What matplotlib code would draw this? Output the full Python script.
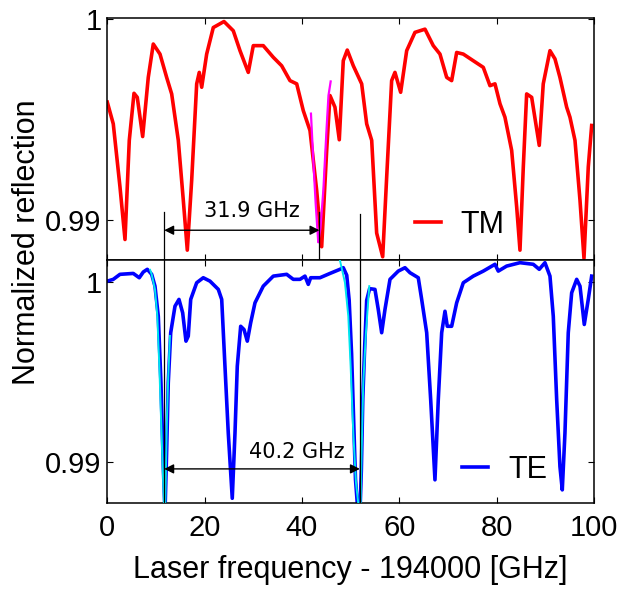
import matplotlib
matplotlib.use('Agg')
import matplotlib.pyplot as plt

plt.rcParams['font.family'] = ['Liberation Sans', 'DejaVu Sans']

# TM reflection (top panel)
tm_freq = [0.00, 1.23, 2.61, 3.64, 4.52, 5.49, 6.16, 7.27, 8.42, 9.45, 10.83, 12.20, 13.23, 14.59, 15.62,
           16.44, 17.34, 18.37, 18.90, 19.40, 20.42, 21.78, 23.98, 25.89, 27.27, 28.97, 30.00, 32.05, 34.11,
           35.83, 37.54, 38.92, 40.27, 41.65, 43.02, 44.05, 45.08, 45.76, 46.78, 47.67, 48.49, 49.31, 50.55,
           52.27, 53.30, 54.33, 55.35, 56.59, 57.41, 58.43, 59.11, 60.28, 61.52, 63.22, 65.28, 66.98, 68.36,
           69.74, 70.76, 71.79, 73.15, 75.20, 77.26, 78.63, 79.66, 80.69, 81.71, 83.09, 84.12, 84.80, 85.48,
           86.17, 87.20, 88.76, 89.58, 90.96, 91.99, 93.01, 94.39, 95.07, 96.10, 97.13, 97.95, 98.83, 99.53]
tm_refl = [0.99587, 0.99479, 0.99165, 0.98904, 0.99397, 0.99631, 0.99611, 0.99416, 0.99710, 0.99876, 0.99826,
           0.99710, 0.99628, 0.99397, 0.99099, 0.98851, 0.99198, 0.99678, 0.99735, 0.99661, 0.99826, 0.99958,
           0.99988, 0.99942, 0.99843, 0.99735, 0.99868, 0.99868, 0.99810, 0.99768, 0.99694, 0.99678, 0.99545,
           0.99446, 0.99149, 0.98868, 0.99347, 0.99620, 0.99562, 0.99400, 0.99793, 0.99846, 0.99768, 0.99678,
           0.99479, 0.99397, 0.98936, 0.98818, 0.99215, 0.99694, 0.99735, 0.99636, 0.99843, 0.99934, 0.99950,
           0.99868, 0.99826, 0.99710, 0.99694, 0.99834, 0.99826, 0.99793, 0.99760, 0.99669, 0.99678, 0.99579,
           0.99512, 0.99347, 0.99066, 0.98851, 0.99264, 0.99628, 0.99611, 0.99372, 0.99678, 0.99843, 0.99802,
           0.99710, 0.99562, 0.99512, 0.99397, 0.99099, 0.98810, 0.99264, 0.99471]

# TM fit around the 43.6 GHz dip
tm_fit_freq = [41.85, 42.33, 42.82, 43.23, 43.35, 43.80, 44.40, 45.07, 45.45, 45.90]
tm_fit_refl = [0.99530, 0.99297, 0.99083, 0.98934, 0.98890, 0.98960, 0.99150, 0.99460, 0.99620, 0.99690]

# TE reflection (bottom panel)
te_freq = [0.00, 1.23, 2.61, 5.34, 6.57, 7.40, 8.22, 9.12, 9.80, 10.48, 11.03, 11.51, 11.86, 12.20, 12.53,
           13.03, 13.91, 14.73, 15.49, 16.17, 16.64, 17.14, 18.37, 19.72, 21.10, 22.81, 23.51, 24.18, 24.86,
           25.68, 26.24, 26.71, 27.41, 28.09, 28.77, 29.46, 30.35, 32.05, 34.11, 36.86, 38.22, 39.59, 40.62,
           41.30, 41.79, 43.70, 45.76, 47.81, 48.49, 49.20, 49.70, 50.20, 50.60, 51.00, 51.50, 51.90, 52.20,
           52.50, 52.90, 53.30, 53.90, 55.00, 55.68, 56.38, 57.06, 58.09, 59.79, 61.17, 62.20, 63.90, 64.60,
           65.63, 66.45, 67.33, 68.01, 68.71, 69.39, 69.86, 70.76, 71.79, 73.15, 75.20, 77.26, 79.66, 80.34,
           82.06, 84.80, 87.53, 88.76, 89.93, 90.96, 91.64, 92.34, 93.01, 93.49, 94.04, 94.72, 95.42, 96.45,
           97.13, 98.01, 98.83, 99.53]
te_refl = [1.00007, 1.00017, 1.00045, 1.00050, 1.00026, 1.00058, 1.00073, 1.00045, 0.99979, 0.99811, 0.99439,
           0.98972, 0.98720, 0.99065, 0.99439, 0.99719, 0.99867, 0.99905, 0.99830, 0.99672, 0.99700, 0.99905,
           0.99998, 1.00026, 1.00007, 0.99961, 0.99905, 0.99532, 0.99159, 0.98795, 0.99159, 0.99532, 0.99755,
           0.99737, 0.99672, 0.99774, 0.99886, 0.99979, 1.00035, 1.00045, 1.00017, 1.00017, 1.00035, 0.99989,
           1.00026, 1.00026, 1.00050, 1.00073, 1.00082, 1.00040, 0.99900, 0.99600, 0.99250, 0.98900, 0.98720,
           0.98700, 0.98950, 0.99350, 0.99650, 0.99900, 0.99965, 0.99961, 0.99849, 0.99719, 0.99849, 1.00017,
           1.00063, 1.00082, 1.00054, 1.00026, 0.99905, 0.99719, 0.99345, 0.98898, 0.99345, 0.99719, 0.99839,
           0.99755, 0.99755, 0.99886, 0.99998, 1.00035, 1.00063, 1.00101, 1.00063, 1.00091, 1.00110, 1.00101,
           1.00073, 1.00110, 1.00035, 0.99811, 0.99345, 0.98972, 0.98842, 0.99159, 0.99719, 0.99942, 1.00017,
           0.99979, 0.99765, 0.99905, 1.00035]

# TE fits around the two dips
te_fit1_freq = [8.80, 9.12, 9.80, 10.28, 10.69, 11.03, 11.38, 11.65, 11.80, 11.92, 12.06, 12.27, 12.53, 12.88]
te_fit1_refl = [1.00070, 1.00045, 0.99961, 0.99812, 0.99533, 0.99253, 0.98973, 0.98767, 0.98700, 0.98767,
                0.98973, 0.99253, 0.99477, 0.99701]
te_fit2_freq = [47.81, 48.84, 49.52, 50.00, 50.55, 51.10, 51.57, 51.80, 52.07, 52.27, 52.60, 53.15, 53.83]
te_fit2_refl = [1.00123, 0.99998, 0.99812, 0.99533, 0.99160, 0.98881, 0.98767, 0.98700, 0.98767, 0.99065,
                0.99440, 0.99720, 0.99979]

# spacing markers
tm_marks = [11.7, 43.6]
te_marks = [11.7, 51.9]
tm_label = '31.9 GHz'
te_label = '40.2 GHz'

x_ticks = [0, 20, 40, 60, 80, 100]

fig = plt.figure(figsize=(6.18, 5.94), dpi=100)
ax1 = fig.add_axes([0.1736, 0.5623, 0.7875, 0.4069])
ax2 = fig.add_axes([0.1736, 0.1527, 0.7875, 0.4096])

ax1.plot(tm_freq, tm_refl, color='#ff0000', lw=2.6, label='TM', zorder=2)
ax1.plot(tm_fit_freq, tm_fit_refl, color='#ff00ff', lw=1.6, zorder=3)
ax2.plot(te_freq, te_refl, color='#0000ff', lw=2.6, label='TE', zorder=2)
ax2.plot(te_fit1_freq, te_fit1_refl, color='#00e5ee', lw=1.4, zorder=3)
ax2.plot(te_fit2_freq, te_fit2_refl, color='#00e5ee', lw=1.4, zorder=3)

ax1.set_ylim(0.98802, 1.00004)
ax2.set_ylim(0.98767, 1.00125)

# vertical marker lines
ax1.plot([tm_marks[0]] * 2, [0.99040, 0.5], color='k', lw=0.9, zorder=4)
ax1.plot([tm_marks[1]] * 2, [0.99040, 0.5], color='k', lw=0.9, zorder=4)
ax1.plot([te_marks[1]] * 2, [0.99030, 0.5], color='k', lw=0.9, zorder=4)
ax2.plot([te_marks[0]] * 2, [0.5, 1.1], color='k', lw=0.9, zorder=4)
ax2.plot([te_marks[1]] * 2, [0.5, 1.1], color='k', lw=0.9, zorder=4)

arr = dict(arrowstyle='<|-|>', color='k', lw=1.0, mutation_scale=14, shrinkA=0, shrinkB=0)
ax1.annotate('', xy=(tm_marks[0], 0.98950), xytext=(tm_marks[1], 0.98950), arrowprops=arr, zorder=5)
ax2.annotate('', xy=(te_marks[0], 0.98959), xytext=(te_marks[1], 0.98959), arrowprops=arr, zorder=5)
ax1.text(29.7, 0.99045, tm_label, ha='center', va='center', fontsize=15, family='DejaVu Sans')
ax2.text(38.9, 0.99056, te_label, ha='center', va='center', fontsize=15, family='DejaVu Sans')

for ax in (ax1, ax2):
    ax.set_xlim(0, 100)
    ax.set_xticks(x_ticks)
    ax.set_yticks([0.99, 1.0])
    ax.set_yticklabels(['0.99', '1'])
    ax.tick_params(direction='in', top=True, right=True, length=4, width=0.8, labelsize=21)
    ax.tick_params(axis='y', pad=4)
    for s in ax.spines.values():
        s.set_linewidth(1.1)

ax1.legend(frameon=False, fontsize=22, loc='center left', bbox_to_anchor=(0.632, 0.145),
           handlelength=0.85, handletextpad=0.65, borderpad=0, borderaxespad=0)
ax2.legend(frameon=False, fontsize=22, loc='center left', bbox_to_anchor=(0.729, 0.137),
           handlelength=0.85, handletextpad=0.65, borderpad=0, borderaxespad=0)

ax1.tick_params(labelbottom=False)
ax2.tick_params(axis='x', pad=8)
ax2.set_xlabel('Laser frequency - 194000 [GHz]', fontsize=22, labelpad=9)
fig.text(0.044, 1 - 242 / 594, 'Normalized reflection', rotation=90, ha='center', va='center', fontsize=22)

fig.savefig('out.png', dpi=100)
